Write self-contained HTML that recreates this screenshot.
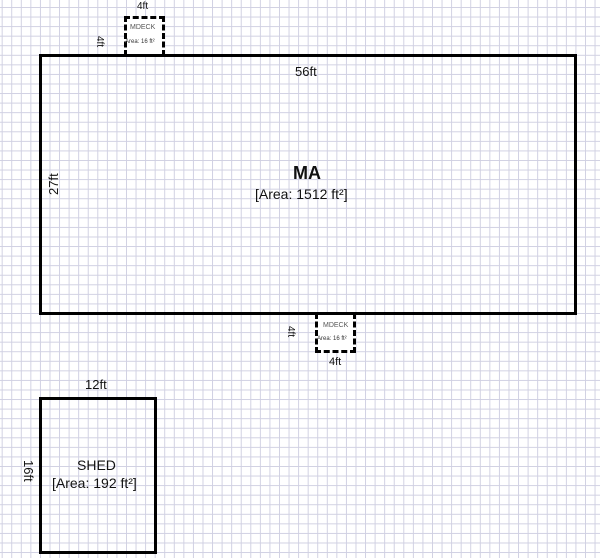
<!DOCTYPE html>
<html><head><style>
body{margin:0;width:600px;height:558px;overflow:hidden;background:#fff;font-family:"Liberation Sans",Arial,sans-serif;position:relative}
.grid{position:absolute;left:0;top:0;width:600px;height:558px;
background-image:linear-gradient(to right,#d0d0e2 1px,transparent 1px),linear-gradient(to bottom,#d0d0e2 1px,transparent 1px);
background-size:9.57px 9.57px;background-position:1.7px 7px}
.b{position:absolute;border:3px solid #000;box-sizing:border-box}
.d{position:absolute;border:3px dashed #000;box-sizing:border-box;background:#fff}
.t{position:absolute;white-space:nowrap;color:#111}
</style></head><body>
<div class="grid"></div>
<div class="d" style="left:124px;top:16px;width:41px;height:40px;border-bottom:none"></div>
<div class="d" style="left:315px;top:313px;width:41px;height:40px;border-top:none"></div>
<div class="b" style="left:39px;top:54px;width:538px;height:261px"></div>
<div class="b" style="left:39px;top:397px;width:118px;height:157px"></div>

<div class="t" style="left:137px;top:1px;font-size:10px">4ft</div>
<div class="t" style="left:105px;top:36px;font-size:10px;transform:rotate(90deg);transform-origin:left top">4ft</div>
<div class="t" style="left:130px;top:24px;font-size:7px;color:#555">MDECK</div>
<div class="t" style="left:125px;top:39px;font-size:6px;color:#333">Area: 16 ft²</div>

<div class="t" style="left:323px;top:322px;font-size:7px;color:#555">MDECK</div>
<div class="t" style="left:317px;top:336px;font-size:6px;color:#333">Area: 16 ft²</div>
<div class="t" style="left:296px;top:326px;font-size:10px;transform:rotate(90deg);transform-origin:left top">4ft</div>
<div class="t" style="left:329px;top:356px;font-size:11px">4ft</div>

<div class="t" style="left:295px;top:64px;font-size:13px">56ft</div>
<div class="t" style="left:46px;top:195px;font-size:13px;transform:rotate(-90deg);transform-origin:left top">27ft</div>
<div class="t" style="left:293px;top:163px;font-size:18px;font-weight:bold">MA</div>
<div class="t" style="left:255px;top:186px;font-size:14px">[Area: 1512 ft²]</div>

<div class="t" style="left:85px;top:377px;font-size:13px">12ft</div>
<div class="t" style="left:36px;top:460px;font-size:13px;transform:rotate(90deg);transform-origin:left top">16ft</div>
<div class="t" style="left:77px;top:457px;font-size:14px">SHED</div>
<div class="t" style="left:52px;top:475px;font-size:14px">[Area: 192 ft²]</div>
</body></html>
